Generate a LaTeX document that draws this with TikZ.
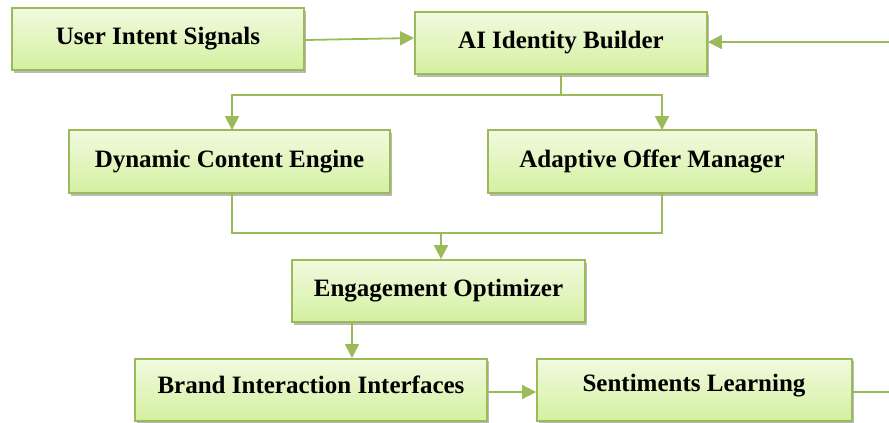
\documentclass[tikz,border=0pt]{standalone}
\usepackage{fontspec}
\setmainfont{Liberation Serif}
\usetikzlibrary{arrows.meta,shadows}
\definecolor{boxline}{HTML}{9BBB59}
\definecolor{boxtop}{HTML}{F1FADF}
\definecolor{boxbot}{HTML}{D4F0A0}
\tikzset{
  gfont/.style={font=\fontsize{25}{29}\selectfont\bfseries},
  gbox/.style={draw=boxline, line width=1.8pt, top color=boxtop, bottom color=boxbot,
    minimum height=62pt, inner sep=0pt, gfont,
    drop shadow={shadow xshift=1.5pt, shadow yshift=-2.5pt, fill=black!45, opacity=0.6}},
  garrow/.style={draw=boxline, line width=1.8pt, -{Triangle[length=14pt,width=14pt]}},
  gline/.style={draw=boxline, line width=1.8pt}
}
\begin{document}
\begin{tikzpicture}[x=1pt,y=-1pt]
\useasboundingbox (0,0) rectangle (889,423);
\node[gbox, minimum width=292pt, minimum height=62pt] (uis) at (158,39) {User Intent Signals};
\node[gbox, minimum width=292pt, minimum height=62pt] (aib) at (561,43) {AI Identity Builder};
\node[gbox, minimum width=321pt, minimum height=63pt] (dce) at (229.5,161.5) {Dynamic Content Engine};
\node[gbox, minimum width=328pt, minimum height=63pt] (aom) at (652,161.5) {Adaptive Offer Manager};
\node[gbox, minimum width=293pt, minimum height=62pt] (eo) at (438.5,291) {Engagement Optimizer};
\begin{scope}
\clip (0,0) rectangle (889,423);
\node[gbox, minimum width=352pt, minimum height=62pt, anchor=north] (bii) at (311,358) {};
\node[gbox, minimum width=315pt, minimum height=62pt, anchor=north] (sl) at (694.5,358) {};
\end{scope}
\node[gfont] (biit) at (311,385) {Brand Interaction Interfaces};
\node[gfont] (slt) at (694,386) {Sentiments Learning};

\coordinate (top) at (aib.south |- 0,95);
\coordinate (bot) at (441,233);
\coordinate (rin) at (889,42);
\coordinate (rout) at (889,392);

\draw[garrow] (uis.east |- 0,40) -- (aib.west |- 0,38);
\draw[gline] (aib.south) -- (top);
\draw[garrow] (top) -| (232,130);
\draw[garrow] (top) -| (662,130);
\draw[gline] (232,193) |- (bot);
\draw[gline] (662,193) |- (bot);
\draw[garrow] (bot) -- (bot |- eo.north);
\draw[garrow] (352,322) -- (352,358);
\draw[garrow] (bii.east |- 0,392) -- (sl.west |- 0,392);
\draw[gline] (sl.east |- 0,392) -- (rout);
\draw[garrow] (rin) -- (aib.east |- rin);
\end{tikzpicture}
\end{document}
